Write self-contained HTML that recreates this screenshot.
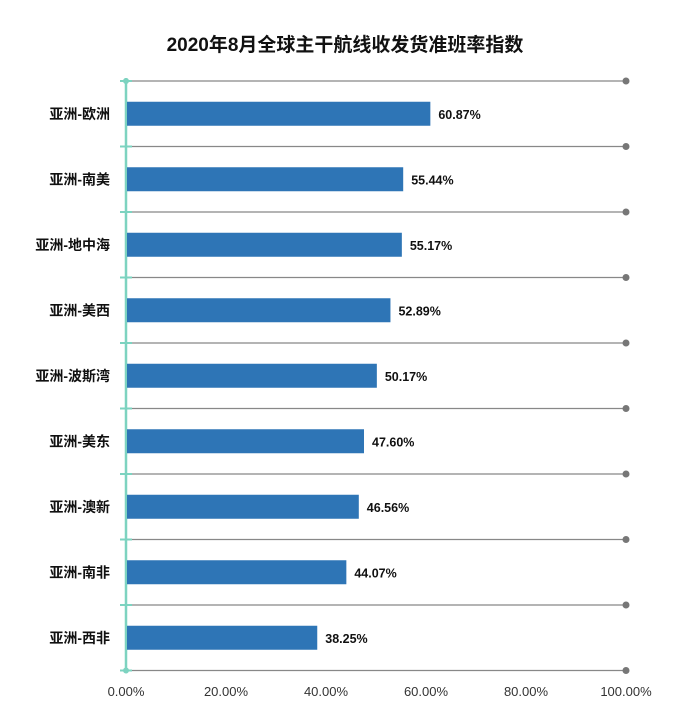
<!DOCTYPE html>
<html><head><meta charset="utf-8"><style>body{margin:0;background:#fff}</style></head><body>
<svg width="679" height="709" xmlns="http://www.w3.org/2000/svg" font-family="'Liberation Sans','Noto Sans CJK SC',sans-serif">
<text x="345" y="51" text-anchor="middle" font-size="19" font-weight="bold" fill="#111">2020年8月全球主干航线收发货准班率指数</text>
<g stroke="#888" stroke-width="1.2">
<line x1="126" y1="81" x2="626" y2="81"/><line x1="126" y1="146.5" x2="626" y2="146.5"/><line x1="126" y1="212" x2="626" y2="212"/><line x1="126" y1="277.5" x2="626" y2="277.5"/><line x1="126" y1="343" x2="626" y2="343"/><line x1="126" y1="408.5" x2="626" y2="408.5"/><line x1="126" y1="474" x2="626" y2="474"/><line x1="126" y1="539.5" x2="626" y2="539.5"/><line x1="126" y1="605" x2="626" y2="605"/><line x1="126" y1="670.5" x2="626" y2="670.5"/>
</g>
<g fill="#777">
<circle cx="626" cy="81" r="3.5"/><circle cx="626" cy="146.5" r="3.5"/><circle cx="626" cy="212" r="3.5"/><circle cx="626" cy="277.5" r="3.5"/><circle cx="626" cy="343" r="3.5"/><circle cx="626" cy="408.5" r="3.5"/><circle cx="626" cy="474" r="3.5"/><circle cx="626" cy="539.5" r="3.5"/><circle cx="626" cy="605" r="3.5"/><circle cx="626" cy="670.5" r="3.5"/>
</g>
<g stroke="#7dd3c0" stroke-width="2">
<line x1="120" y1="81" x2="132" y2="81"/><line x1="120" y1="146.5" x2="132" y2="146.5"/><line x1="120" y1="212" x2="132" y2="212"/><line x1="120" y1="277.5" x2="132" y2="277.5"/><line x1="120" y1="343" x2="132" y2="343"/><line x1="120" y1="408.5" x2="132" y2="408.5"/><line x1="120" y1="474" x2="132" y2="474"/><line x1="120" y1="539.5" x2="132" y2="539.5"/><line x1="120" y1="605" x2="132" y2="605"/><line x1="120" y1="670.5" x2="132" y2="670.5"/>
<line x1="126" y1="78" x2="126" y2="673" stroke-width="2.5"/>
</g>
<circle cx="126" cy="81" r="3" fill="#7dd3c0"/><circle cx="126" cy="670.5" r="3" fill="#7dd3c0"/>
<g fill="#2e75b6">
<rect x="127" y="101.75" width="303.35" height="24"/>
<rect x="127" y="167.25" width="276.2" height="24"/>
<rect x="127" y="232.75" width="274.85" height="24"/>
<rect x="127" y="298.25" width="263.45" height="24"/>
<rect x="127" y="363.75" width="249.85" height="24"/>
<rect x="127" y="429.25" width="237" height="24"/>
<rect x="127" y="494.75" width="231.8" height="24"/>
<rect x="127" y="560.25" width="219.35" height="24"/>
<rect x="127" y="625.75" width="190.25" height="24"/>
</g>
<g font-size="14" font-weight="bold" fill="#111" text-anchor="end">
<text x="110" y="118.75">亚洲-欧洲</text>
<text x="110" y="184.25">亚洲-南美</text>
<text x="110" y="249.75">亚洲-地中海</text>
<text x="110" y="315.25">亚洲-美西</text>
<text x="110" y="380.75">亚洲-波斯湾</text>
<text x="110" y="446.25">亚洲-美东</text>
<text x="110" y="511.75">亚洲-澳新</text>
<text x="110" y="577.25">亚洲-南非</text>
<text x="110" y="642.75">亚洲-西非</text>
</g>
<g font-size="12.5" font-weight="bold" fill="#111">
<text x="438.35" y="118.75">60.87%</text>
<text x="411.2" y="184.25">55.44%</text>
<text x="409.85" y="249.75">55.17%</text>
<text x="398.45" y="315.25">52.89%</text>
<text x="384.85" y="380.75">50.17%</text>
<text x="372" y="446.25">47.60%</text>
<text x="366.8" y="511.75">46.56%</text>
<text x="354.35" y="577.25">44.07%</text>
<text x="325.25" y="642.75">38.25%</text>
</g>
<g font-size="13" fill="#333" text-anchor="middle">
<text x="126" y="696">0.00%</text><text x="226" y="696">20.00%</text><text x="326" y="696">40.00%</text><text x="426" y="696">60.00%</text><text x="526" y="696">80.00%</text><text x="626" y="696">100.00%</text>
</g>
</svg>
</body></html>
